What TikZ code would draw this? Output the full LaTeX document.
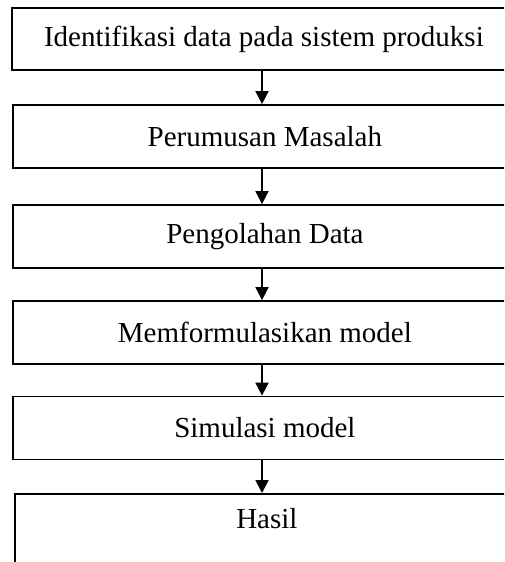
\documentclass[tikz,border=0pt]{standalone}
\usepackage{fontspec}
\setmainfont{Liberation Serif}
\usetikzlibrary{arrows.meta}
\newcommand{\boxtext}[1]{\makebox[504pt]{#1}\hspace{60pt}}
\begin{document}
\begin{tikzpicture}[x=1pt,y=-1pt,
  stepbox/.style={draw=black, line width=1.8pt, minimum height=63pt, anchor=west,
    inner sep=0pt, font=\fontsize{29}{34}\selectfont, text=black},
  flow/.style={draw=black, line width=1.8pt, -{Triangle[width=13pt,length=13pt]}}]
\useasboundingbox (0,0) rectangle (504,562);
\clip (0,0) rectangle (504,562);
\fill[white] (0,0) rectangle (504,562);
\coordinate (ax) at (262,0);
\node[stepbox, minimum height=62pt] (b1) at (11,39) {\boxtext{Identifikasi data pada sistem produksi}};
\node[stepbox] (b2) at (12,136.5) {\boxtext{Perumusan Masalah}};
\node[stepbox] (b3) at (12,236.5) {\boxtext{Pengolahan Data}};
\node[stepbox] (b4) at (12,332.5) {\boxtext{Memformulasikan model}};
\node[stepbox] (b5) at (12,428) {\boxtext{Simulasi model}};
\node[stepbox, minimum height=100pt, text depth=50pt, anchor=north west] (b6) at (14,493) {\boxtext{Hasil}};
\draw[flow] (ax |- b1.south) -- (ax |- b2.north);
\draw[flow] (ax |- b2.south) -- (ax |- b3.north);
\draw[flow] (ax |- b3.south) -- (ax |- b4.north);
\draw[flow] (ax |- b4.south) -- (ax |- b5.north);
\draw[flow] (ax |- b5.south) -- (ax |- b6.north);
\end{tikzpicture}
\end{document}
